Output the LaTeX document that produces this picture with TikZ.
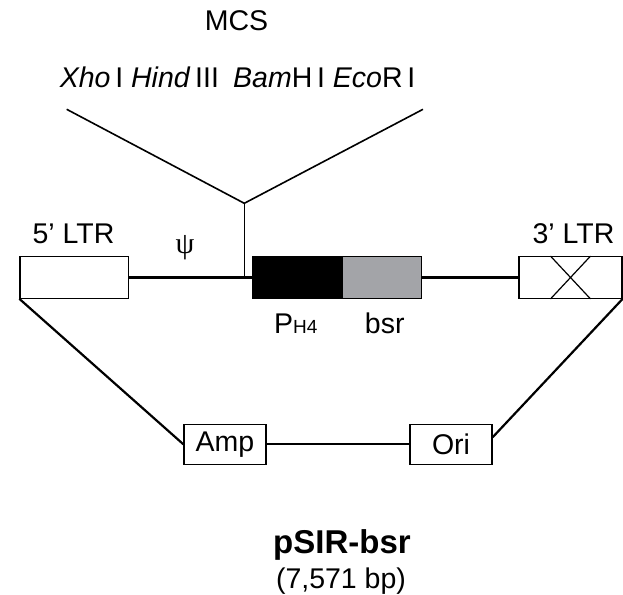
\documentclass[tikz,border=0pt]{standalone}
\usepackage{fontspec}
\setmainfont{Liberation Sans}
\newfontfamily\greekfont{Liberation Serif}
\usetikzlibrary{positioning,calc}

\begin{document}
\begin{tikzpicture}[x=1pt,y=-1pt,
	box/.style={draw,line width=1.2pt,inner sep=0pt,minimum height=41.6pt},
	lab/.style={inner sep=0pt,font=\fontsize{28.5}{30}\selectfont},
	wire/.style={line width=2.2pt},
	arm/.style={line width=1.6pt}]
			\useasboundingbox (0,0) rectangle (623,594);
			\node[box,minimum width=108.3pt] (ltr5) at (74.2,277.5) {};
			\node[box,minimum width=103pt] (ltr3) at (570.5,277.5) {};
			\node[box,fill=black,minimum width=89pt] (ph) at (296.9,277.5) {};
			\node[box,fill={rgb,255:red,163;green,164;blue,168},minimum width=79pt] (bsr) at (381.7,277.5) {};
			\node[box,minimum width=82pt,minimum height=40pt] (amp) at (225,444.3) {};
			\node[box,minimum width=82pt,minimum height=40pt] (ori) at (451,444.3) {};
			\node[lab] at (amp) {Amp};
			\node[lab] at (ori) {Ori};
			\node[lab,anchor=base] (mcs) at (236.5,30.7) {MCS};
			\node[lab,anchor=base west] (enz) at (59.6,87.3) {\textit{Xho}\,I \textit{Hind}\,III\enspace\textit{Bam}H\,I \textit{Eco}R\,I};
			\node[lab,anchor=base] (ltr5lab) at (73.5,243) {5’ LTR};
			\node[lab,anchor=base] (ltr3lab) at (573.5,243) {3’ LTR};
			\node[lab,font=\fontsize{30}{30}\greekfont] (psi) at (185,248) {ψ};
			\node[lab,anchor=base west] (phlab) at (274,333) {P{\fontsize{19}{20}\selectfont H4}};
			\node[lab,anchor=base west] (bsrlab) at (364.7,333) {bsr};
			\node[inner sep=0pt,anchor=base,font=\fontsize{33}{34}\selectfont\bfseries] (name) at (342,553) {pSIR-bsr};
			\node[lab,anchor=base] (size) at (341,588) {(7,571 bp)};
			\coordinate (join) at (244.3,203.3);
			\coordinate (armL) at (66.7,109.3);
			\coordinate (armR) at (423,109.3);
			
			\begin{scope}[arm]
			\draw (armL)--(join)--(armR);
			\draw (join)--(join |- ltr5.east);
			\end{scope}
			
			\begin{scope}[wire]
			\draw (ltr5.east)--(ph.west);
			\draw (bsr.east)--(ltr3.west);
			\draw (ltr5.south west)--(amp.west);
			\draw (amp.east)--(ori.west);
			\draw ([yshift=7pt]ori.east)--(ltr3.south east);
			\end{scope}
			
			\begin{scope}[line width=1.2pt]
			\draw ([xshift=-20pt]ltr3.north)--([xshift=20pt]ltr3.south);
			\draw ([xshift=20pt]ltr3.north)--([xshift=-20pt]ltr3.south);
			\end{scope}
\end{tikzpicture}
\end{document}
